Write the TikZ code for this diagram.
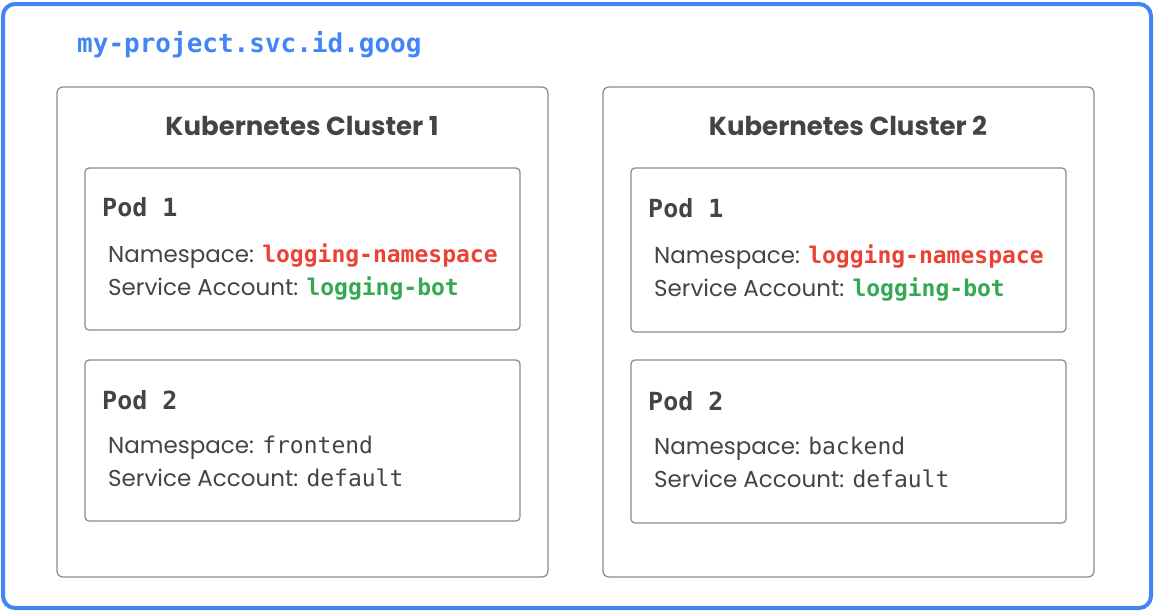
\documentclass[tikz,border=0pt]{standalone}
\usepackage{fontspec}
\setmainfont{Poppins}
\newfontfamily\codefont{DejaVu Sans Mono}
\usetikzlibrary{positioning}
\definecolor{gblue}{HTML}{4285F4}
\definecolor{gred}{HTML}{EA4335}
\definecolor{ggreen}{HTML}{34A853}
\definecolor{txtgray}{HTML}{444444}
\definecolor{boxgray}{HTML}{8A8A8A}
\newcommand\code[1]{{\codefont\bfseries #1}}
\newcommand\plaincode[1]{{\codefont #1}}
\tikzset{
	   frame/.style = {draw=gblue, line width=4pt, rounded corners=12pt},
	 cluster/.style = {draw=boxgray, line width=1.2pt, rounded corners=6pt},
	  podbox/.style = {draw=boxgray, line width=1.2pt, rounded corners=4pt},
	  header/.style = {anchor=base, text=txtgray, font=\fontsize{26}{30}\selectfont\bfseries},
	 podname/.style = {anchor=base west, text=txtgray, font=\codefont\fontsize{25}{29}\selectfont\bfseries},
	    info/.style = {anchor=base west, text=txtgray, inner sep=0pt, font=\fontsize{23}{27}\selectfont}
}

\begin{document}
\begin{tikzpicture}[x=1pt, y=-1pt]
		\useasboundingbox (0,0) rectangle (1154,613);
		\draw[frame] (3,4) rectangle (1151,608);
		\node[anchor=base west, inner sep=0pt, text=gblue, font=\codefont\fontsize{26}{30}\selectfont\bfseries]
			(project) at (77,52) {my-project.svc.id.goog};
		% cluster 1
		\draw[cluster] (57,87) rectangle (548,577);
		\node[header] (clusterA) at (302,135) {Kubernetes Cluster 1};
		\draw[podbox] (85,168) rectangle (520,330);
		\node[podname, inner sep=0pt] (podAa) at (102,216) {Pod 1};
		\node[info] (nsAa) at (108,262) {Namespace: \textcolor{gred}{\code{logging-namespace}}};
		\node[info] (saAa) at (108,295) {Service Account: \textcolor{ggreen}{\code{logging-bot}}};
		\draw[podbox] (85,360) rectangle (520,521);
		\node[podname, inner sep=0pt] (podAb) at (102,409) {Pod 2};
		\node[info] (nsAb) at (108,453) {Namespace: \plaincode{frontend}};
		\node[info] (saAb) at (108,486) {Service Account: \plaincode{default}};
		% cluster 2
		\draw[cluster] (603,87) rectangle (1094,577);
		\node[header] (clusterB) at (848,135) {Kubernetes Cluster 2};
		\draw[podbox] (631,168) rectangle (1066,332);
		\node[podname, inner sep=0pt] (podBa) at (648,217) {Pod 1};
		\node[info] (nsBa) at (654,263) {Namespace: \textcolor{gred}{\code{logging-namespace}}};
		\node[info] (saBa) at (654,296) {Service Account: \textcolor{ggreen}{\code{logging-bot}}};
		\draw[podbox] (631,360) rectangle (1066,523);
		\node[podname, inner sep=0pt] (podBb) at (648,410) {Pod 2};
		\node[info] (nsBb) at (654,454) {Namespace: \plaincode{backend}};
		\node[info] (saBb) at (654,487) {Service Account: \plaincode{default}};
	\end{tikzpicture}
\end{document}
